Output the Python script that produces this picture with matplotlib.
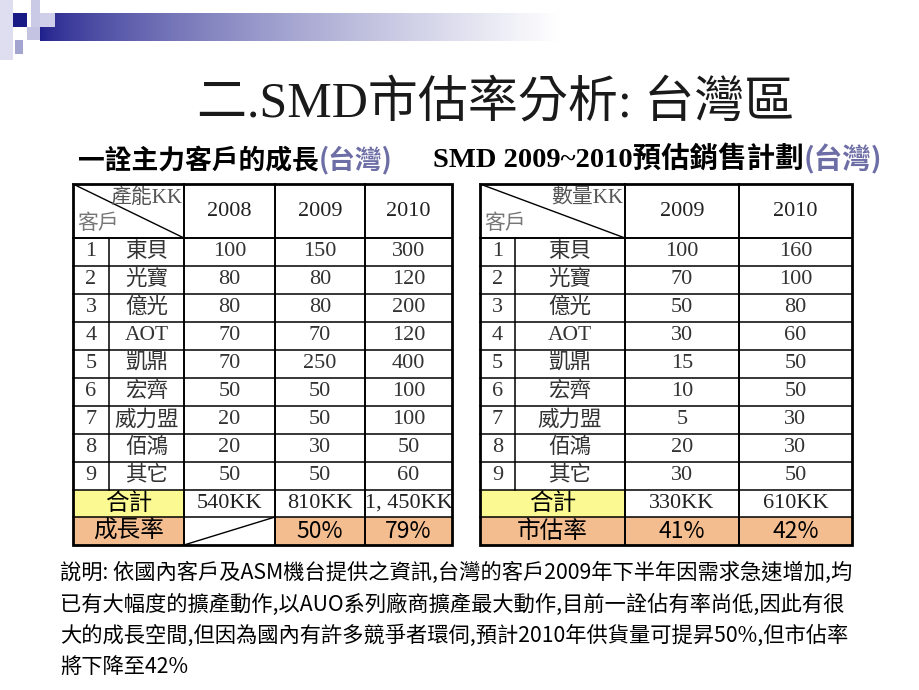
import numpy as np
import matplotlib
matplotlib.use('Agg')
import matplotlib.pyplot as plt
from matplotlib.patches import Rectangle

plt.rcParams['font.family'] = ['Noto Sans CJK TC', 'DejaVu Sans']
SERIF = ['Liberation Serif', 'Noto Sans CJK TC']

# ---- data ----
customers = ['東貝', '光寶', '億光', 'AOT', '凱鼎', '宏齊', '威力盟', '佰鴻', '其它']
cap_years = ['2008', '2009', '2010']
cap_2008 = [100, 80, 80, 70, 70, 50, 20, 20, 50]
cap_2009 = [150, 80, 80, 70, 250, 50, 50, 30, 50]
cap_2010 = [300, 120, 200, 120, 400, 100, 100, 50, 60]
cap_total = ['540KK', '810KK', '1, 450KK']
cap_growth = ['', '50%', '79%']

sales_years = ['2009', '2010']
sales_2009 = [100, 70, 50, 30, 15, 10, 5, 20, 30]
sales_2010 = [160, 100, 80, 60, 50, 50, 30, 30, 50]
sales_total = ['330KK', '610KK']
sales_share = ['41%', '42%']

title = '二.SMD市估率分析: 台灣區'
sub_left = ('一詮主力客戶的成長', '(台灣)')
sub_right = ('SMD 2009~2010預估銷售計劃', '(台灣)')
notes = ['說明: 依國內客戶及ASM機台提供之資訊,台灣的客戶2009年下半年因需求急速增加,均',
         '已有大幅度的擴產動作,以AUO系列廠商擴產最大動作,目前一詮佔有率尚低,因此有很',
         '大的成長空間,但因為國內有許多競爭者環伺,預計2010年供貨量可提昇50%,但市佔率',
         '將下降至42%']

YELLOW = '#fbfa92'
PEACH = '#f3bd8f'
TXT = '#333333'

fig = plt.figure(figsize=(9.2, 6.9), dpi=100)
ax = fig.add_axes([0, 0, 1, 1])
ax.set_xlim(0, 920)
ax.set_ylim(690, 0)
ax.axis('off')

# ---- top decoration ----
ax.add_patch(Rectangle((0, 0), 13, 60, color='#dedef0', lw=0))
ax.add_patch(Rectangle((31, 0), 9, 27, color='#cacae6', lw=0))
ax.add_patch(Rectangle((27, 27), 13, 13, color='#c4c4e2', lw=0))
ax.add_patch(Rectangle((15, 40), 8, 14, color='#a4a4d0', lw=0))
xs = np.linspace(0, 1, 600)
t = np.clip(xs, 0, 1) ** 0.7
navy = np.array([0.12, 0.12, 0.55])
grad = navy[None, :] * (1 - t[:, None]) + np.ones(3)[None, :] * t[:, None]
ax.imshow(grad[None, :, :], extent=(40, 560, 41, 13), aspect='auto', zorder=1)
ax.add_patch(Rectangle((40, 13), 15, 14, color='#cfcfea', lw=0, zorder=2))
ax.add_patch(Rectangle((13, 13), 14, 14, color='#1a1a86', lw=0, zorder=2))

# ---- titles ----
ax.text(496, 104, title, ha='center', va='center', fontsize=36, color='#1a1a1a',
        family=SERIF)


def two_part(x, y, parts, fam, size):
    t1 = ax.text(x, y, parts[0], ha='left', va='bottom', fontsize=size,
                 fontweight='bold', color='black', family=fam)
    ax.annotate(parts[1], xy=(1, 0), xycoords=t1, ha='left', va='bottom',
                fontsize=size, fontweight='bold', color='#6e6ea6',
                family=['Noto Sans CJK TC'])


two_part(78, 174, sub_left, ['Noto Sans CJK TC'], 19.3)
two_part(433, 174, sub_right, SERIF, 20.5)

# ---- tables ----
row_top = 184
head_bot = 238
row_h = 28
n = len(customers)
rows_y = [head_bot + i * row_h for i in range(n + 1)]
tot_y = (rows_y[-1], 517)
last_y = (517, 545)


def draw_table(xcols, years, cols, totals, lastrow, unit, last_label, blank_first):
    x0, xn, xname = xcols[0], xcols[-1], xcols[2]
    # fills
    ax.add_patch(Rectangle((x0, tot_y[0]), xname - x0, tot_y[1] - tot_y[0], color=YELLOW, lw=0))
    ax.add_patch(Rectangle((x0, last_y[0]), xname - x0, last_y[1] - last_y[0], color=PEACH, lw=0))
    for j in range(len(years)):
        if blank_first and j == 0:
            continue
        ax.add_patch(Rectangle((xcols[j + 2], last_y[0]), xcols[j + 3] - xcols[j + 2],
                               last_y[1] - last_y[0], color=PEACH, lw=0))
    # grid lines
    lw_in, lw_out = 1.1, 2.0
    for y in rows_y + [tot_y[1]]:
        ax.plot([x0, xn], [y, y], color='black', lw=lw_in if y != head_bot else 1.4)
    ax.plot([xcols[1], xcols[1]], [head_bot, rows_y[-1]], color='black', lw=lw_in)
    for xv in xcols[2:-1]:
        ax.plot([xv, xv], [row_top, last_y[1]], color='black', lw=1.4)
    ax.add_patch(Rectangle((x0, row_top), xn - x0, last_y[1] - row_top, fill=False,
                           ec='black', lw=lw_out, zorder=5))
    # header
    ax.plot([x0, xname], [row_top, head_bot], color='black', lw=1.0)
    ax.text(xname - 2, 198, unit, ha='right', va='center', fontsize=15, color='#555555', family=SERIF)
    ax.text(x0 + 4, 224, '客戶', ha='left', va='center', fontsize=15, color='#777777', family=SERIF)
    for j, yr in enumerate(years):
        xc = (xcols[j + 2] + xcols[j + 3]) / 2
        ax.text(xc, (row_top + head_bot) / 2, yr, ha='center', va='center', fontsize=16,
                color='#222222', family=SERIF)
    # body
    for i, name in enumerate(customers):
        yc = rows_y[i] + row_h / 2
        ax.text((xcols[0] + xcols[1]) / 2, yc, str(i + 1), ha='center', va='center',
                fontsize=16, color=TXT, family=SERIF)
        ax.text((xcols[1] + xcols[2]) / 2, yc, name, ha='center', va='center',
                fontsize=15.5, color=TXT, family=SERIF)
        for j, col in enumerate(cols):
            xc = (xcols[j + 2] + xcols[j + 3]) / 2
            ax.text(xc, yc, str(col[i]), ha='center', va='center', fontsize=16,
                    color=TXT, family=SERIF)
    # totals
    ax.text((x0 + xname) / 2, sum(tot_y) / 2, '合計', ha='center', va='center',
            fontsize=17, color='black')
    ax.text((x0 + xname) / 2, sum(last_y) / 2, last_label, ha='center', va='center',
            fontsize=17, color='black')
    for j in range(len(years)):
        xc = (xcols[j + 2] + xcols[j + 3]) / 2
        ax.text(xc, sum(tot_y) / 2, totals[j], ha='center', va='center', fontsize=16,
                color='#222222', family=SERIF)
        if lastrow[j]:
            ax.text(xc, sum(last_y) / 2 + 1, lastrow[j], ha='center', va='center',
                    fontsize=16.5, color='black')
    if blank_first:
        ax.plot([xcols[2], xcols[3]], [last_y[1], last_y[0]], color='black', lw=1.0)


draw_table([73, 109, 184, 275, 365, 452], cap_years, [cap_2008, cap_2009, cap_2010],
           cap_total, cap_growth, '產能KK', '成長率', True)
draw_table([480, 515, 625, 739, 852], sales_years, [sales_2009, sales_2010],
           sales_total, sales_share, '數量KK', '市估率', False)

# ---- notes ----
for k, line in enumerate(notes):
    ax.text(60, 573 + k * 31.3, line, ha='left', va='center', fontsize=15.3, color='black')

fig.savefig('out.png', dpi=100, facecolor='white')
